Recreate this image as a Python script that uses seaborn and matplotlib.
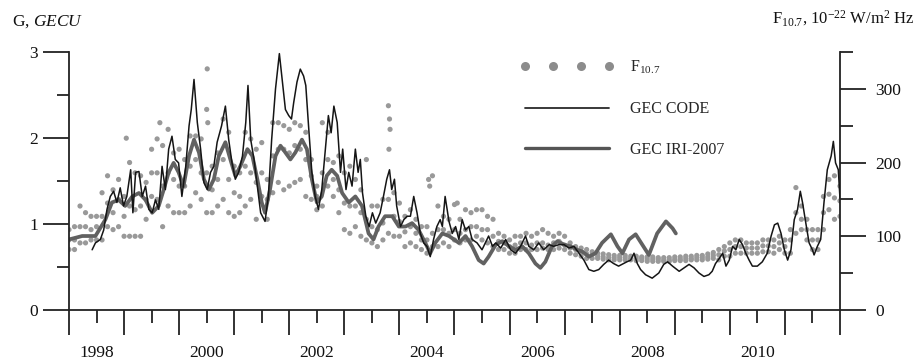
import numpy as np
import pandas as pd
import matplotlib
matplotlib.use("Agg")
import matplotlib.pyplot as plt
from matplotlib.lines import Line2D
import seaborn as sns

# GEC CODE (black thin line), GECU
code_year = [1998.42, 1998.48, 1998.57, 1998.63, 1998.69, 1998.75, 1998.81, 1998.87, 1998.93, 1998.99,
             1999.05, 1999.12, 1999.16, 1999.21, 1999.27, 1999.33, 1999.39, 1999.45, 1999.51, 1999.57,
             1999.63, 1999.69, 1999.75, 1999.81, 1999.87, 1999.93, 1999.99, 2000.05, 2000.12, 2000.18,
             2000.22, 2000.27, 2000.33, 2000.39, 2000.45, 2000.51, 2000.57, 2000.63, 2000.69, 2000.77,
             2000.84, 2000.90, 2000.96, 2001.02, 2001.08, 2001.15, 2001.21, 2001.25, 2001.30, 2001.36,
             2001.42, 2001.48, 2001.56, 2001.62, 2001.68, 2001.75, 2001.82, 2001.87, 2001.93, 2001.99,
             2002.04, 2002.08, 2002.14, 2002.20, 2002.26, 2002.30, 2002.35, 2002.41, 2002.47, 2002.53,
             2002.59, 2002.65, 2002.71, 2002.76, 2002.81, 2002.87, 2002.93, 2002.97, 2003.03, 2003.08,
             2003.14, 2003.20, 2003.25, 2003.29, 2003.33, 2003.39, 2003.45, 2003.51, 2003.57, 2003.65,
             2003.71, 2003.77, 2003.82, 2003.86, 2003.91, 2003.95, 2004.02, 2004.08, 2004.14, 2004.20,
             2004.26, 2004.32, 2004.38, 2004.44, 2004.50, 2004.56, 2004.62, 2004.68, 2004.74, 2004.78,
             2004.83, 2004.90, 2004.96, 2005.02, 2005.08, 2005.14, 2005.20, 2005.26, 2005.32, 2005.41,
             2005.50, 2005.56, 2005.62, 2005.69, 2005.75, 2005.84, 2005.93, 2006.02, 2006.11, 2006.20,
             2006.29, 2006.35, 2006.44, 2006.53, 2006.62, 2006.72, 2006.80, 2006.90, 2006.99, 2007.08,
             2007.17, 2007.26, 2007.35, 2007.44, 2007.53, 2007.62, 2007.71, 2007.80, 2007.89, 2007.98,
             2008.07, 2008.13, 2008.20, 2008.26, 2008.32, 2008.38, 2008.47, 2008.59, 2008.71, 2008.80,
             2008.87, 2008.96, 2009.08, 2009.17, 2009.26, 2009.35, 2009.44, 2009.53, 2009.62, 2009.68,
             2009.74, 2009.81, 2009.87, 2009.93, 2009.99, 2010.05, 2010.11, 2010.17, 2010.23, 2010.29,
             2010.35, 2010.41, 2010.50, 2010.59, 2010.68, 2010.75, 2010.81, 2010.87, 2010.93, 2010.99,
             2011.05, 2011.11, 2011.17, 2011.23, 2011.28, 2011.32, 2011.38, 2011.44, 2011.50, 2011.53,
             2011.59, 2011.65, 2011.71, 2011.77, 2011.84, 2011.88, 2011.92, 2011.97, 2012.00]
code_gec = [0.70, 0.78, 0.82, 0.93, 1.17, 1.32, 1.38, 1.25, 1.42, 1.21,
            1.32, 1.63, 1.13, 1.60, 1.61, 1.32, 1.44, 1.17, 1.13, 1.28,
            1.17, 1.67, 1.40, 1.87, 2.02, 1.75, 1.71, 1.32, 1.67, 2.14,
            2.33, 2.68, 2.18, 1.87, 1.48, 1.40, 1.60, 1.67, 1.95, 2.14,
            2.37, 1.98, 1.71, 1.52, 1.60, 1.79, 2.18, 2.61, 1.98, 1.75,
            1.44, 1.13, 1.03, 1.32, 1.98, 2.57, 2.98, 2.68, 2.33, 2.26,
            2.22, 2.41, 2.65, 2.80, 2.72, 2.61, 2.14, 1.60, 1.32, 1.17,
            1.40, 1.83, 2.26, 2.06, 2.37, 2.18, 1.60, 1.87, 1.40, 1.60,
            1.44, 1.87, 1.60, 1.75, 1.36, 1.09, 0.97, 1.13, 1.01, 1.13,
            1.32, 1.52, 1.63, 1.40, 1.52, 1.21, 0.97, 1.05, 1.09, 1.09,
            1.32, 1.13, 0.89, 0.78, 0.74, 0.62, 0.82, 0.97, 1.05, 0.97,
            1.32, 1.03, 0.89, 0.97, 0.82, 1.05, 0.93, 0.97, 0.82, 0.78,
            0.70, 0.78, 0.86, 0.74, 0.78, 0.72, 0.82, 0.70, 0.66, 0.74,
            0.86, 0.74, 0.70, 0.78, 0.70, 0.76, 0.74, 0.76, 0.76, 0.72,
            0.74, 0.66, 0.58, 0.47, 0.45, 0.47, 0.53, 0.58, 0.54, 0.51,
            0.54, 0.56, 0.58, 0.66, 0.54, 0.47, 0.41, 0.37, 0.43, 0.53,
            0.56, 0.51, 0.45, 0.49, 0.53, 0.49, 0.43, 0.39, 0.41, 0.45,
            0.54, 0.60, 0.66, 0.51, 0.58, 0.74, 0.70, 0.82, 0.76, 0.66,
            0.58, 0.51, 0.51, 0.56, 0.66, 0.86, 0.99, 1.01, 0.89, 0.70,
            0.58, 0.70, 1.05, 1.17, 1.38, 1.25, 1.01, 0.78, 0.70, 0.64,
            0.74, 0.82, 1.25, 1.63, 1.79, 1.96, 1.71, 1.63, 1.30]

# GEC IRI-2007 (thick grey line), GECU
iri_year = [1998.00, 1998.24, 1998.48, 1998.66, 1998.78, 1998.90, 1999.02, 1999.15, 1999.27, 1999.39,
            1999.51, 1999.63, 1999.72, 1999.81, 1999.90, 1999.99, 2000.08, 2000.18, 2000.27, 2000.36,
            2000.45, 2000.54, 2000.63, 2000.72, 2000.84, 2000.93, 2001.02, 2001.11, 2001.24, 2001.33,
            2001.42, 2001.50, 2001.56, 2001.65, 2001.75, 2001.84, 2001.93, 2002.02, 2002.11, 2002.23,
            2002.32, 2002.41, 2002.50, 2002.59, 2002.68, 2002.77, 2002.87, 2002.96, 2003.08, 2003.20,
            2003.32, 2003.44, 2003.53, 2003.62, 2003.74, 2003.87, 2003.99, 2004.11, 2004.23, 2004.35,
            2004.47, 2004.56, 2004.65, 2004.78, 2004.90, 2005.08, 2005.20, 2005.32, 2005.44, 2005.53,
            2005.62, 2005.75, 2005.87, 2005.99, 2006.11, 2006.23, 2006.35, 2006.47, 2006.56, 2006.65,
            2006.77, 2006.87, 2006.99, 2007.11, 2007.23, 2007.32, 2007.44, 2007.56, 2007.68, 2007.84,
            2007.96, 2008.05, 2008.17, 2008.29, 2008.41, 2008.53, 2008.68, 2008.84, 2008.96, 2009.02]
iri_gec = [0.82, 0.86, 0.86, 1.05, 1.25, 1.28, 1.21, 1.32, 1.36, 1.28,
           1.13, 1.21, 1.40, 1.60, 1.71, 1.60, 1.44, 1.79, 1.98, 1.83,
           1.52, 1.40, 1.52, 1.79, 1.95, 1.75, 1.56, 1.67, 1.87, 1.79,
           1.52, 1.25, 1.13, 1.40, 1.79, 1.91, 1.83, 1.75, 1.83, 1.98,
           1.87, 1.52, 1.25, 1.32, 1.56, 1.63, 1.56, 1.36, 1.25, 1.32,
           1.21, 0.89, 0.82, 0.97, 1.09, 1.09, 0.97, 0.97, 1.01, 0.93,
           0.78, 0.66, 0.78, 0.89, 0.86, 0.78, 0.86, 0.74, 0.58, 0.54,
           0.62, 0.76, 0.80, 0.74, 0.70, 0.74, 0.66, 0.54, 0.49, 0.56,
           0.74, 0.80, 0.76, 0.74, 0.70, 0.68, 0.62, 0.66, 0.78, 0.88,
           0.74, 0.66, 0.82, 0.88, 0.76, 0.64, 0.89, 1.03, 0.95, 0.89]

# F10.7 (grey dots), 10^-22 W/m^2 Hz, read every 0.1 year from 1998.0 to 2012.0:
# lower edge, middle and upper edge of the daily cloud
f107_year = np.round(np.linspace(1998.0, 2012.0, 141), 1)
f107_low = [82, 82, 91, 91, 95, 95, 95, 113, 109, 113,
            100, 100, 100, 100, 123, 154, 150, 113, 141, 132,
            132, 132, 141, 159, 150, 132, 132, 141, 150, 132,
            127, 132, 141, 150, 123, 154, 123, 159, 173, 163,
            168, 173, 177, 154, 150, 136, 141, 168, 154, 132,
            109, 104, 113, 100, 95, 91, 86, 95, 104, 100,
            100, 86, 91, 86, 82, 77, 86, 86, 91, 86,
            95, 91, 95, 95, 100, 95, 91, 86, 82, 82,
            77, 77, 82, 82, 82, 82, 84, 82, 82, 84,
            82, 77, 75, 73, 70, 70, 70, 69, 68, 68,
            68, 68, 68, 67, 67, 66, 66, 66, 66, 66,
            67, 67, 67, 68, 68, 68, 69, 70, 68, 73,
            73, 77, 77, 77, 77, 77, 79, 79, 77, 82,
            77, 77, 104, 109, 95, 82, 82, 109, 136, 123,
            127]
f107_mid = [95, 95, 113, 113, 109, 113, 127, 145, 132, 150,
            127, 141, 136, 141, 150, 186, 186, 168, 186, 177,
            168, 168, 195, 204, 186, 186, 163, 177, 204, 177,
            159, 154, 195, 186, 173, 186, 150, 209, 218, 218,
            213, 223, 218, 204, 182, 154, 186, 204, 177, 163,
            145, 141, 141, 132, 123, 113, 109, 118, 150, 127,
            120, 106, 113, 104, 95, 95, 104, 109, 109, 104,
            109, 104, 109, 113, 113, 109, 109, 100, 93, 91,
            86, 88, 91, 91, 88, 91, 91, 88, 91, 93,
            88, 84, 82, 79, 76, 75, 73, 72, 71, 71,
            71, 71, 70, 70, 70, 69, 69, 69, 68, 68,
            69, 69, 70, 70, 71, 71, 72, 74, 75, 80,
            82, 86, 86, 84, 84, 84, 87, 87, 86, 91,
            86, 95, 132, 123, 109, 95, 95, 132, 157, 152,
            148]
f107_high = [109, 113, 141, 132, 127, 127, 159, 182, 163, 177,
             154, 200, 186, 182, 173, 218, 232, 223, 245, 213,
             218, 204, 236, 236, 232, 272, 195, 213, 259, 241,
             195, 186, 241, 232, 218, 227, 177, 254, 254, 250,
             245, 254, 250, 241, 204, 168, 254, 241, 200, 209,
             186, 195, 177, 163, 204, 141, 141, 150, 277, 159,
             145, 127, 136, 123, 113, 113, 182, 141, 127, 123,
             143, 123, 136, 132, 136, 136, 127, 123, 104, 100,
             95, 100, 100, 104, 100, 104, 109, 104, 100, 104,
             100, 91, 86, 84, 82, 79, 77, 76, 75, 74,
             74, 74, 73, 73, 72, 72, 72, 71, 71, 71,
             72, 72, 73, 73, 74, 74, 76, 78, 82, 86,
             91, 95, 95, 91, 91, 91, 95, 95, 95, 100,
             95, 109, 166, 141, 123, 109, 109, 154, 177, 182,
             168]
# isolated high days
spike_year = [1999.04, 1999.65, 2000.51, 2000.52, 2003.81, 2003.82, 2003.83, 2004.53, 2004.55, 2005.05]
spike_f107 = [233, 254, 327, 254, 218, 259, 245, 177, 168, 145]

x_major = list(range(1998, 2013))
x_minor = [y + 0.5 for y in range(1998, 2012)]
x_labels = [str(y) if y % 2 == 0 else "" for y in range(1998, 2012)]

sns.set_theme(style="ticks")
plt.rcParams["font.family"] = ["Liberation Serif", "DejaVu Serif"]
plt.rcParams["mathtext.fontset"] = "custom"
plt.rcParams["mathtext.rm"] = "Liberation Serif"
plt.rcParams["mathtext.it"] = "Liberation Serif:italic"

DARK = "#222222"
fig = plt.figure(figsize=(9.2, 3.63), dpi=100)
ax = fig.add_axes([0.075, 0.146, 0.838, 0.711])
ax2 = ax.twinx()

# F10.7 on the right axis, drawn underneath the GEC lines
f_df = pd.concat([
    pd.DataFrame({"year": f107_year, "f107": f107_low}),
    pd.DataFrame({"year": f107_year, "f107": f107_mid}),
    pd.DataFrame({"year": f107_year, "f107": f107_high}),
    pd.DataFrame({"year": spike_year, "f107": spike_f107}),
], ignore_index=True)
sns.scatterplot(data=f_df, x="year", y="f107", ax=ax2, color="#999999",
                s=14, linewidth=0, edgecolor="none", legend=False)

code_df = pd.DataFrame({"year": code_year, "gec": code_gec})
iri_df = pd.DataFrame({"year": iri_year, "gec": iri_gec})
sns.lineplot(data=iri_df, x="year", y="gec", ax=ax, color="#616161", lw=2.7,
             estimator=None, sort=False)
sns.lineplot(data=code_df, x="year", y="gec", ax=ax, color="#151515", lw=1.1,
             estimator=None, sort=False)

ax.set_zorder(ax2.get_zorder() + 1)
ax.patch.set_visible(False)

ax.set_xlim(1998, 2012)
ax.set_ylim(0, 3)
ax2.set_ylim(0, 350)
ax.set_xlabel("")
ax.set_ylabel("")
ax2.set_ylabel("")

ax.set_xticks(x_major)
ax.set_xticklabels([])
ax.set_xticks(x_minor, labels=x_labels, minor=True)
ax.set_yticks([0, 1, 2, 3])
ax.set_yticks([0.5, 1.5, 2.5], minor=True)
ax2.set_yticks([0, 100, 200, 300])
ax2.set_yticks([50, 150, 250, 350], minor=True)

ax.tick_params(axis="x", which="major", length=18, width=1.3, color=DARK, direction="out")
ax.tick_params(axis="x", which="minor", length=9, width=1.3, color=DARK, direction="out",
               pad=16, labelsize=12.5, labelcolor="#111111")
ax.tick_params(axis="y", which="major", length=18.5, width=1.3, color=DARK, direction="out",
               pad=4, labelsize=12.5, labelcolor="#111111")
ax.tick_params(axis="y", which="minor", length=9, width=1.3, color=DARK, direction="out")
ax2.tick_params(axis="y", which="major", length=18.5, width=1.3, color=DARK, direction="out",
                pad=7, labelsize=12.5, labelcolor="#111111")
ax2.tick_params(axis="y", which="minor", length=9, width=1.3, color=DARK, direction="out")

for side in ["top", "right"]:
    ax.spines[side].set_visible(False)
for side in ["top", "left", "bottom"]:
    ax2.spines[side].set_visible(False)
for sp in [ax.spines["left"], ax.spines["bottom"], ax2.spines["right"]]:
    sp.set_linewidth(1.3)
    sp.set_color(DARK)

handles = [
    Line2D([], [], ls="none", marker="o", ms=6.5, color="#8c8c8c", mec="none"),
    Line2D([], [], color="#2a2a2a", lw=1.3),
    Line2D([], [], color="#555555", lw=2.4),
]
ax.legend(handles, [r"F$_{10.7}$", "GEC CODE", "GEC IRI-2007"], numpoints=4,
          loc="upper left", bbox_to_anchor=(520 / 920, 1 - 59 / 363),
          bbox_transform=fig.transFigure, frameon=False, borderpad=0,
          borderaxespad=0, handlelength=5.9, handletextpad=1.0,
          labelspacing=1.55, fontsize=11.5)

fig.text(12 / 920, 1 - 22 / 363, r"G, $\mathit{GECU}$", fontsize=12.5,
         ha="left", va="center", color="#111111")
fig.text(915 / 920, 1 - 18 / 363, r"F$_{10.7}$, 10$^{-22}$ W/m$^2$ Hz", fontsize=12,
         ha="right", va="center", color="#111111")

fig.savefig("out.png", dpi=100)
